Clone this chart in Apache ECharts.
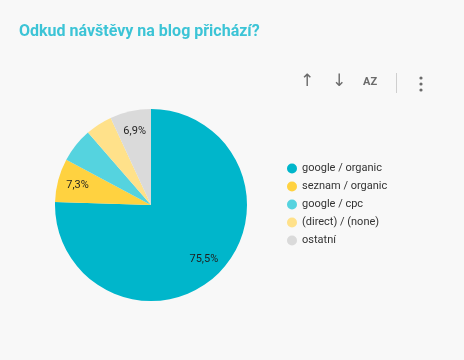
<!DOCTYPE html>
<html><head><meta charset="utf-8">
<script src="https://cdn.jsdelivr.net/npm/echarts@6/dist/echarts.min.js"></script>
<style>html,body{margin:0;padding:0;background:#f8f8f8;}#c{width:464px;height:360px;}</style>
</head><body><div id="c"></div>
<script>
const categories = ['google / organic', 'seznam / organic', 'google / cpc', '(direct) / (none)', 'ostatní'];
const values = [75.5, 7.3, 5.8, 4.5, 6.9];
const colors = ['#00b6cb', '#ffd240', '#55d3df', '#ffe18a', '#dadada'];
const titleText = 'Odkud návštěvy na blog přichází?';

const chart = echarts.init(document.getElementById('c'));
const iconColor = '#6b6b6b';
const fmt = p => p.value >= 6.5 ? p.value.toFixed(1).replace('.', ',') + '%' : '';
chart.setOption({
  backgroundColor: '#f8f8f8',
  animation: false,
  title: {
    text: titleText, left: 14, top: 19, padding: 5,
    textStyle: { fontFamily: 'Roboto', fontWeight: 'bold', fontSize: 16, color: '#3cc4d6' }
  },
  color: colors,
  legend: {
    orient: 'vertical', left: 287, top: 163, itemGap: 7, padding: 0,
    icon: 'circle', itemWidth: 10, itemHeight: 10,
    textStyle: { fontFamily: 'Roboto', fontSize: 11, color: '#333' },
    data: categories
  },
  series: [{
    type: 'pie',
    center: [151, 205], radius: 96,
    startAngle: 90, clockwise: true,
    data: categories.map((c, i) => ({ name: c, value: values[i] })),
    label: { show: false },
    labelLine: { show: false },
    itemStyle: { borderWidth: 0 },
    emphasis: { disabled: true }
  }, {
    type: 'pie',
    center: [151, 205], radius: 146,
    startAngle: 90, clockwise: true, silent: true,
    data: categories.map((c, i) => ({ name: c, value: values[i] })),
    itemStyle: { color: 'rgba(0,0,0,0)', borderWidth: 0 },
    label: {
      show: true, position: 'inside',
      fontFamily: 'Roboto', fontSize: 11, color: '#1f1f1f',
      formatter: fmt
    },
    labelLine: { show: false },
    emphasis: { disabled: true }
  }],
  graphic: [
    { type: 'text', left: 300, top: 73, style: { text: '↑', fontSize: 17, fill: iconColor, fontFamily: 'DejaVu Sans' } },
    { type: 'text', left: 332, top: 73, style: { text: '↓', fontSize: 17, fill: iconColor, fontFamily: 'DejaVu Sans' } },
    { type: 'text', left: 363, top: 77, style: { text: 'AZ', fontSize: 11, fontWeight: 'bold', fill: iconColor, fontFamily: 'Roboto' } },
    { type: 'line', shape: { x1: 396.5, y1: 73, x2: 396.5, y2: 93 }, style: { stroke: '#cfcfcf', lineWidth: 1 } },
    { type: 'circle', shape: { cx: 421, cy: 78, r: 1.6 }, style: { fill: iconColor } },
    { type: 'circle', shape: { cx: 421, cy: 84, r: 1.6 }, style: { fill: iconColor } },
    { type: 'circle', shape: { cx: 421, cy: 90, r: 1.6 }, style: { fill: iconColor } }
  ]
});
</script></body></html>
